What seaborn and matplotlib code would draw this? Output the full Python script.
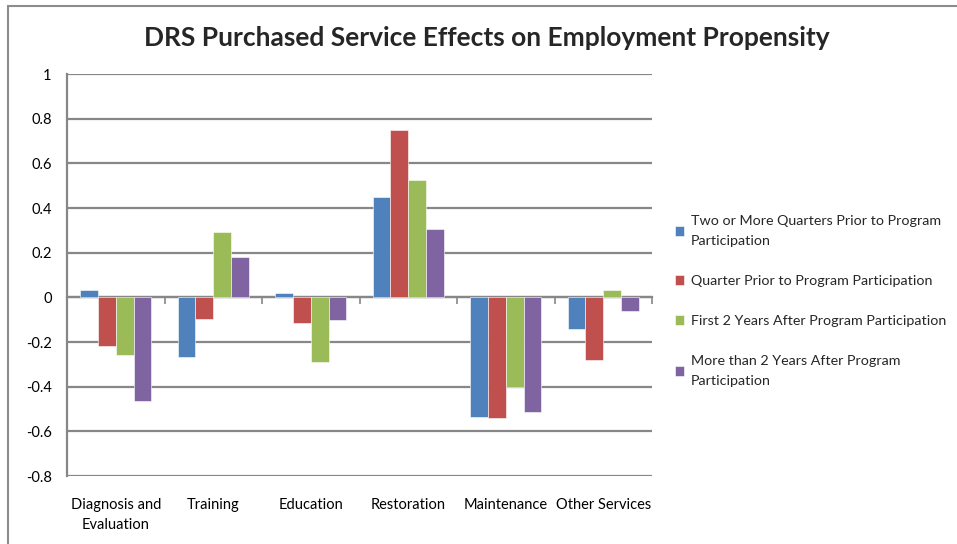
import numpy as np
import pandas as pd
import matplotlib
matplotlib.use("Agg")
import matplotlib.pyplot as plt
from matplotlib.patches import Rectangle
from matplotlib.ticker import FuncFormatter
import seaborn as sns

categories = ["Diagnosis and\nEvaluation", "Training", "Education", "Restoration", "Maintenance", "Other Services"]
series_names = [
    "Two or More Quarters Prior to Program\nParticipation",
    "Quarter Prior to Program Participation",
    "First 2 Years After Program Participation",
    "More than 2 Years After Program\nParticipation",
]
two_or_more_prior = [0.035, -0.266, 0.02, 0.45, -0.535, -0.142]
quarter_prior = [-0.217, -0.099, -0.115, 0.748, -0.539, -0.282]
first_2_years = [-0.26, 0.293, -0.291, 0.527, -0.40, 0.035]
more_than_2_years = [-0.465, 0.181, -0.10, 0.305, -0.514, -0.061]
colors = ["#4F81BD", "#C0504D", "#9BBB59", "#8064A2"]

df = pd.DataFrame({"category": categories})
for name, vals in zip(series_names, [two_or_more_prior, quarter_prior, first_2_years, more_than_2_years]):
    df[name] = vals
long = df.melt(id_vars="category", var_name="series", value_name="value")

sns.set_style("white")
plt.rcParams["font.family"] = ["Lato", "DejaVu Sans"]

fig = plt.figure(figsize=(9.57, 5.44), dpi=100)
ax = fig.add_axes([67/957, 1-476/544, (652-67)/957, (476-74)/544])

sns.barplot(data=long, x="category", y="value", hue="series", hue_order=series_names,
            palette=colors, width=0.73, saturation=1, ax=ax, edgecolor="white", linewidth=0.4)

grid_c = "#878787"
ax.set_ylim(-0.8, 1.0)
ax.set_xlim(-0.5, 5.5)
ax.set_yticks(np.round(np.arange(-0.8, 1.01, 0.2), 1))
ax.yaxis.set_major_formatter(FuncFormatter(lambda v, p: f"{round(v, 1) + 0.0:g}"))
ax.yaxis.grid(True, color=grid_c, linewidth=1.6)
ax.set_axisbelow(True)
for s in ["top", "right", "bottom"]:
    ax.spines[s].set_visible(False)
ax.spines["left"].set_color(grid_c)
ax.spines["left"].set_linewidth(1.6)
ax.tick_params(axis="y", direction="out", length=6, width=1.2, color=grid_c, pad=5, labelsize=10.5, labelcolor="#000000")
ax.tick_params(axis="x", length=0, pad=15.5, labelsize=10.5, labelcolor="#000000")
for t in ax.get_xticklabels():
    t.set_linespacing(1.55)
ax.set_xlabel("")
ax.set_ylabel("")

sec = ax.secondary_xaxis(0.8/1.8)
sec.set_xticks(np.arange(-0.5, 6, 1))
sec.tick_params(axis="x", direction="out", length=5, width=1.2, color=grid_c, labelbottom=False)
sec.spines["bottom"].set_color(grid_c)
sec.spines["bottom"].set_linewidth(1.6)

fig.text(487/957, 1-38/544, "DRS Purchased Service Effects on Employment Propensity",
         ha="center", va="center", fontsize=19, fontweight="bold")

handles, labels = ax.get_legend_handles_labels()
leg = ax.legend(handles, labels, loc="center left", bbox_to_anchor=(662/957, 1-301/544),
                bbox_transform=fig.transFigure, frameon=False, fontsize=10.3,
                handlelength=0.65, handleheight=0.65, handletextpad=0.45, labelspacing=1.95)
for t in leg.get_texts():
    t.set_linespacing(1.8)

fig.patches.append(Rectangle((8/957, -0.1), 2, 1-6/544+0.1, transform=fig.transFigure,
                             fill=False, edgecolor="#8c8c8c", linewidth=1.5))

fig.savefig("out.png", dpi=100)
